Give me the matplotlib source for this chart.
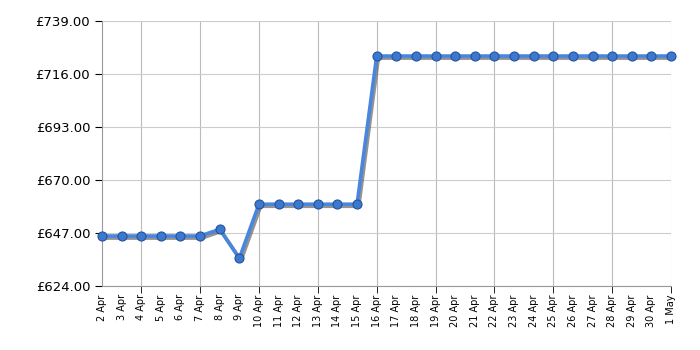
import numpy as np
import matplotlib.pyplot as plt
import matplotlib.patheffects as pe

dates = ['2 Apr', '3 Apr', '4 Apr', '5 Apr', '6 Apr', '7 Apr', '8 Apr', '9 Apr',
         '10 Apr', '11 Apr', '12 Apr', '13 Apr', '14 Apr', '15 Apr', '16 Apr',
         '17 Apr', '18 Apr', '19 Apr', '20 Apr', '21 Apr', '22 Apr', '23 Apr',
         '24 Apr', '25 Apr', '26 Apr', '27 Apr', '28 Apr', '29 Apr', '30 Apr', '1 May']
prices = [645.7] * 6 + [648.6, 636.0] + [659.5] * 6 + [723.8] * 16
yticks = [624, 647, 670, 693, 716, 739]

fig = plt.figure(figsize=(7, 3.5), dpi=100)
ax = fig.add_axes([102 / 700, 64 / 350, 569 / 700, 265 / 350])

x = np.arange(len(dates))
# line with a soft grey drop shadow, markers on top without shadow
shadow = [pe.SimpleLineShadow(offset=(1.2, -1.5), shadow_color='#666666', alpha=0.7), pe.Normal()]
ax.plot(x, prices, color='#4a86dc', lw=2.6, path_effects=shadow, zorder=3,
        solid_joinstyle='round')
ax.plot(x, prices, ls='none', marker='o', ms=6.5,
        markerfacecolor='#3b78cf', markeredgecolor='#24539a', markeredgewidth=0.8,
        zorder=4, clip_on=False)

ax.set_xlim(0, len(dates) - 1)
ax.set_ylim(624, 739)
ax.set_yticks(yticks)
ax.set_yticklabels(['£%.2f' % v for v in yticks], fontsize=9.5)
ax.set_xticks(x)
ax.set_xticklabels(dates, rotation=90, fontsize=7)
ax.tick_params(axis='x', which='major', length=0, pad=6)
ax.tick_params(axis='y', length=5, color='black')

# gridlines and ticks every third day
ax.xaxis.remove_overlapping_locs = False
ax.set_xticks(np.arange(2, len(dates), 3), minor=True)
ax.tick_params(axis='x', which='minor', length=5, color='black')
ax.grid(axis='x', which='minor', color='#bbbbbb', lw=0.8)
ax.grid(axis='y', color='#cccccc', lw=0.8)
ax.set_axisbelow(True)
for s in ['top', 'right']:
    ax.spines[s].set_visible(False)
ax.spines['left'].set_color('#999999')
ax.spines['bottom'].set_color('#999999')

fig.savefig('out.png', dpi=100)
